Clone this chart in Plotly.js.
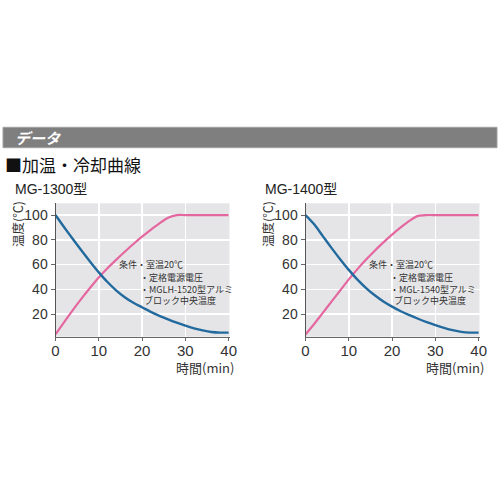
<!DOCTYPE html>
<html>
<head>
<meta charset="utf-8">
<script src="https://cdn.plot.ly/plotly-3.0.1.min.js"></script>
<style>
html,body{margin:0;padding:0;background:#fff;}
#chart{width:500px;height:500px;}
</style>
</head>
<body>
<div id="chart"></div>
<script>
// ---- data ----
const timeMin = [0,2,4,6,8,10,12,14,16,18,20,22,24,26,28,30,32,34,36,38,40];
const mg1300Cooling = [100,90.2,80.6,71.3,62.3,53.7,45.9,39.2,33.6,29.1,25.5,21.8,18.6,15.7,13,10.6,8.5,6.8,5.5,5,5];
const mg1300Heating = [3.5,13.5,23.2,32.5,41.3,49.6,57,63.8,70.3,76.6,82.5,88,93.3,97.8,100,100,100,100,100,100,100];
const mg1400Cooling = [100,92.5,83,73.5,64.3,55.7,47.8,41,35.2,30.2,26,22.3,19.1,16.2,13.5,11.1,8.9,7,5.6,5,5];
const mg1400Heating = [3.5,12,21,30,39,48,56.3,64,71.2,77.9,84.2,90,95.3,99.3,100,100,100,100,100,100,100];
const xTicks = [0,10,20,30,40];
const yTicks = [20,40,60,80,100];
const modelNames = ['MG-1300型','MG-1400型'];
const blockNames = ['MGLH-1520型アルミ','MGL-1540型アルミ'];
const sectionTitle = 'データ';
const heading = '■加温・冷却曲線';
const yTitle = '温度(℃)';
const xTitle = '時間(min)';
const noteLines = ['条件・室温20℃','・定格電源電圧','ブロック中央温度'];

const FONT = 'Liberation Sans, Arial, Noto Sans CJK JP, sans-serif';
const JP = 'Noto Sans CJK JP, Liberation Sans, sans-serif';
const BLUE = '#226a9e';
const PINK = '#e5679f';
const W = 500, H = 500;
const px = v => v / W;
const py = v => 1 - v / H;

const coolings = [mg1300Cooling, mg1400Cooling];
const heatings = [mg1300Heating, mg1400Heating];

const traces = [];
const annotations = [];
const layout = {
  width: W, height: H,
  margin: {l:0, r:0, t:0, b:0},
  paper_bgcolor: '#fff',
  plot_bgcolor: '#e5e5e7',
  showlegend: false,
  font: {family: FONT, color: '#333'},
  shapes: [{
    type: 'rect', xref: 'paper', yref: 'paper',
    x0: px(3), x1: px(497), y0: py(147.7), y1: py(127.3),
    fillcolor: '#7f7f7f', line: {color: '#a0a0a0', width: 1}
  }],
  annotations: annotations
};

annotations.push({
  xref:'paper', yref:'paper', x: px(13), y: py(137.5), xanchor:'left', yanchor:'middle',
  text: '<b><i>' + sectionTitle + '</i></b>', showarrow:false,
  font:{family: JP, size: 15, color:'#fff'}
});
annotations.push({
  xref:'paper', yref:'paper', x: px(3), y: py(164), xanchor:'left', yanchor:'middle',
  text: heading, showarrow:false,
  font:{family: JP, size: 17, color:'#111'}
});

const offsets = [0, 250];
for (let i = 0; i < 2; i++) {
  const ox = offsets[i];
  const xa = i === 0 ? 'x' : 'x2';
  const ya = i === 0 ? 'y' : 'y2';
  const xk = i === 0 ? 'xaxis' : 'xaxis2';
  const yk = i === 0 ? 'yaxis' : 'yaxis2';
  layout[xk] = {
    domain: [px(55.5 + ox), px(229.5 + ox)],
    anchor: ya,
    range: [0, 40.2],
    tickvals: xTicks,
    ticktext: xTicks.map(String),
    showgrid: true, gridcolor: '#ffffff', gridwidth: 1.5,
    zeroline: false,
    showline: true, linecolor: '#666', linewidth: 1,
    ticks: 'outside', ticklen: 3, tickcolor: '#666',
    ticklabelstandoff: -3,
    tickfont: {family: FONT, size: 15, color: '#333'},
    fixedrange: true
  };
  layout[yk] = {
    domain: [py(336.7), py(203.3)],
    anchor: xa,
    range: [1.7, 109.5],
    tickvals: yTicks,
    ticktext: yTicks.map(String),
    showgrid: true, gridcolor: '#ffffff', gridwidth: 1.5,
    zeroline: false,
    showline: true, linecolor: '#555', linewidth: 1,
    ticks: 'outside', ticklen: 4, tickcolor: '#666',
    tickfont: {family: FONT, size: 14, color: '#333'},
    fixedrange: true
  };
  traces.push({
    x: timeMin, y: heatings[i], xaxis: xa, yaxis: ya,
    type: 'scatter', mode: 'lines',
    line: {color: PINK, width: 2.2, shape: 'spline', smoothing: 0.8},
    hoverinfo: 'skip'
  });
  traces.push({
    x: timeMin, y: coolings[i], xaxis: xa, yaxis: ya,
    type: 'scatter', mode: 'lines',
    line: {color: BLUE, width: 2.4, shape: 'spline', smoothing: 0.8},
    hoverinfo: 'skip'
  });
  annotations.push({
    xref:'paper', yref:'paper', x: px(13 + ox), y: py(189), xanchor:'left', yanchor:'middle',
    text: modelNames[i], showarrow:false,
    font:{family: FONT, size: 14, color:'#222'}
  });
  annotations.push({
    xref:'paper', yref:'paper', x: px(18 + ox), y: py(224), xanchor:'center', yanchor:'middle',
    text: yTitle, textangle: -90, showarrow:false,
    font:{family: JP, size: 12.5, color:'#333'}
  });
  annotations.push({
    xref:'paper', yref:'paper', x: px(205 + ox), y: py(367), xanchor:'center', yanchor:'middle',
    text: xTitle, showarrow:false,
    font:{family: JP, size: 13, color:'#333'}
  });
  // note: first line alone, remaining three lines as one left-aligned block
  annotations.push({
    xref:'paper', yref:'paper', x: px(116.7 + ox), y: py(264.3), xanchor:'left', yanchor:'middle',
    text: noteLines[0], showarrow:false,
    font:{family: JP, size: 9, color:'#333'}
  });
  annotations.push({
    xref:'paper', yref:'paper', x: px(137.5 + ox), y: py(289.2), xanchor:'left', yanchor:'middle',
    align: 'left',
    text: noteLines[1] + '<br>・' + blockNames[i] + '<br>&nbsp;&nbsp;' + noteLines[2],
    showarrow:false,
    font:{family: JP, size: 9, color:'#333'}
  });
}

Plotly.newPlot('chart', traces, layout, {staticPlot: true, displayModeBar: false});
</script>
</body>
</html>
